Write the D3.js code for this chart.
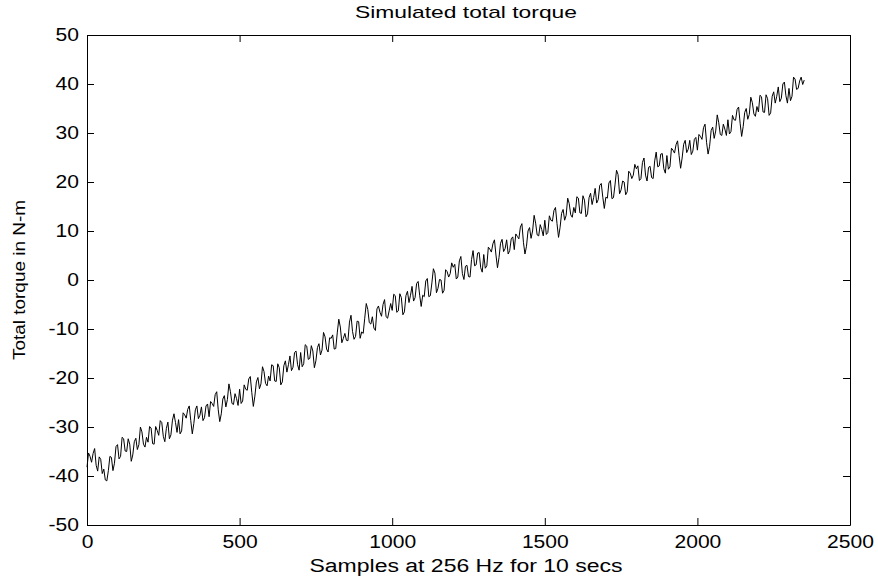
<!DOCTYPE html>
<html>
<head>
<meta charset="utf-8">
<script src="https://cdn.jsdelivr.net/npm/d3@7"></script>
<style>
  body { margin: 0; background: #fff; }
  text { font-family: "Liberation Sans", Arial, sans-serif; fill: #000; }
</style>
</head>
<body>
<div id="vis"></div>
<script>
// torque samples, one value read every 5 samples
const sampleStep = 5;
const torque = [
  -38.2, -35.3, -36.0, -37.2, -35.4, -34.4, -37.8, -39.0, -36.1, -36.6, -39.5, -38.6, -40.8, -41.0, -38.9, -36.0, -36.2, -38.9, -37.4, -34.0,
  -33.6, -36.5, -36.0, -32.1, -32.4, -34.9, -35.0, -32.4, -33.5, -37.0, -35.7, -33.0, -32.3, -34.6, -33.6, -30.0, -31.0, -33.5, -34.1, -32.1,
  -33.1, -29.9, -30.2, -33.4, -33.5, -29.9, -30.7, -31.7, -28.7, -29.1, -31.9, -33.0, -30.3, -29.0, -32.4, -31.6, -28.6, -27.3, -29.1, -31.1,
  -28.5, -31.4, -30.8, -27.1, -27.5, -28.2, -26.4, -25.7, -28.7, -31.4, -29.3, -26.5, -25.7, -28.3, -27.6, -25.9, -28.7, -28.1, -25.7, -25.3,
  -27.9, -24.8, -25.2, -25.8, -23.4, -22.8, -26.5, -28.9, -27.3, -24.3, -23.6, -25.9, -24.4, -21.2, -22.8, -25.2, -25.4, -23.2, -24.2, -25.6,
  -22.3, -25.2, -24.7, -21.4, -22.3, -22.5, -20.2, -19.7, -23.0, -25.8, -23.7, -20.8, -19.9, -22.2, -21.2, -17.7, -18.7, -21.1, -21.6, -19.6,
  -20.6, -17.3, -17.5, -20.6, -20.7, -17.1, -17.9, -21.4, -20.8, -17.5, -16.5, -18.8, -17.3, -15.5, -18.5, -17.8, -14.8, -14.5, -17.3, -18.4,
  -14.8, -17.7, -17.1, -13.2, -13.5, -16.2, -16.0, -13.4, -14.5, -17.9, -16.5, -13.8, -13.0, -15.3, -14.3, -10.7, -11.6, -14.1, -14.7, -11.8,
  -11.9, -11.2, -14.1, -14.0, -10.8, -8.0, -9.6, -12.8, -11.9, -10.9, -12.3, -12.4, -8.6, -7.2, -10.5, -12.1, -11.5, -8.4, -8.5, -11.9,
  -10.6, -10.9, -7.8, -4.8, -6.0, -8.7, -9.0, -7.5, -9.8, -10.3, -5.9, -5.3, -6.6, -7.4, -5.0, -4.0, -7.5, -7.8, -6.3, -4.8,
  -6.2, -2.9, -3.2, -6.6, -6.3, -2.8, -3.6, -7.1, -6.5, -3.2, -2.3, -4.6, -3.1, -1.3, -4.3, -3.6, -0.7, -0.3, -3.1, -5.4,
  -3.1, -3.4, -0.2, 0.3, -3.4, -3.2, -0.6, 2.3, 1.4, -2.6, -1.7, 0.1, 0.0, -2.7, -2.1, 2.1, 1.7, 0.6, 1.3, 3.5,
  2.6, 3.2, 0.2, 0.6, 3.9, 4.8, 1.3, 0.1, 2.8, 3.0, 0.7, 0.6, 4.2, 6.0, 2.9, 3.1, 5.5, 5.6, 2.5, 1.6,
  5.2, 2.4, 2.9, 6.7, 6.3, 5.7, 7.4, 8.2, 5.1, 2.5, 4.6, 7.5, 8.3, 5.8, 6.4, 8.2, 5.3, 6.0, 8.4, 8.8,
  6.2, 9.4, 8.9, 8.4, 10.8, 11.5, 7.7, 5.3, 6.9, 10.0, 10.7, 8.5, 10.0, 13.2, 11.6, 9.2, 9.0, 11.3, 10.3, 9.0,
  12.2, 9.3, 9.7, 13.1, 12.2, 12.0, 14.2, 14.8, 11.5, 8.7, 10.7, 13.6, 14.4, 12.2, 13.2, 16.7, 15.6, 13.3, 12.8, 14.8,
  13.7, 17.0, 16.7, 13.7, 13.6, 17.2, 16.3, 12.9, 13.5, 16.8, 17.7, 15.4, 16.8, 18.7, 15.7, 16.4, 19.3, 19.7, 16.9, 14.6,
  16.9, 16.7, 19.8, 20.3, 16.6, 16.8, 19.4, 22.4, 21.5, 17.6, 18.4, 20.2, 20.0, 17.4, 18.0, 22.2, 21.8, 20.7, 21.4, 23.6,
  22.7, 23.3, 20.3, 20.7, 24.0, 24.9, 21.4, 20.2, 23.0, 23.2, 20.9, 20.7, 24.3, 26.1, 23.1, 23.3, 25.7, 25.8, 22.7, 21.8,
  25.4, 22.6, 23.1, 26.9, 26.5, 25.9, 27.6, 28.4, 25.4, 22.8, 24.9, 27.7, 28.5, 26.0, 26.7, 28.5, 25.6, 26.3, 28.7, 29.1,
  26.5, 29.7, 29.3, 28.7, 31.1, 31.8, 28.1, 25.7, 27.3, 30.5, 31.2, 28.9, 30.4, 33.7, 32.1, 29.7, 29.5, 31.8, 30.8, 29.5,
  32.7, 29.8, 30.3, 33.6, 32.7, 32.6, 34.8, 35.3, 32.0, 29.3, 31.3, 34.2, 35.0, 32.8, 33.8, 37.3, 36.2, 33.9, 33.4, 35.4,
  34.3, 37.7, 37.4, 34.3, 34.2, 37.8, 37.0, 33.6, 34.1, 37.5, 38.4, 36.1, 37.5, 39.4, 36.4, 37.1, 40.0, 40.4, 37.6, 36.1,
  39.1, 36.6, 37.5, 41.4, 41.0, 38.9, 39.1, 40.6, 41.4, 39.9, 40.8
];
const xTicks = [0, 500, 1000, 1500, 2000, 2500];
const yTicks = [-50, -40, -30, -20, -10, 0, 10, 20, 30, 40, 50];

const width = 878, height = 582;
const plotLeft = 87, plotRight = 850, plotTop = 35, plotBottom = 525;

const svg = d3.select('#vis').append('svg')
  .attr('width', width).attr('height', height);

const x = d3.scaleLinear().domain([0, 2500]).range([plotLeft, plotRight]);
const y = d3.scaleLinear().domain([-50, 50]).range([plotBottom, plotTop]);

// the reference text is drawn wider than normal, so stretch it a bit
function widen(sel, factor) {
  sel.each(function () {
    const w = this.getComputedTextLength();
    d3.select(this).attr('textLength', w * factor).attr('lengthAdjust', 'spacingAndGlyphs');
  });
}

const line = d3.line()
  .x((d, i) => x(i * sampleStep))
  .y(d => y(d));

svg.append('path')
  .datum(torque)
  .attr('d', line)
  .attr('fill', 'none')
  .attr('stroke', '#000')
  .attr('stroke-width', 1);

// axes, ticks pointing inward like matlab
const plain = d => String(d);
const gx = svg.append('g').attr('transform', `translate(0,${plotBottom})`)
  .call(d3.axisBottom(x).tickValues(xTicks).tickFormat(plain).tickSizeInner(-7).tickSizeOuter(0).tickPadding(10));
const gy = svg.append('g').attr('transform', `translate(${plotLeft},0)`)
  .call(d3.axisLeft(y).tickValues(yTicks).tickFormat(plain).tickSizeInner(-7).tickSizeOuter(0).tickPadding(8));
svg.append('g').attr('transform', `translate(0,${plotTop})`)
  .call(d3.axisTop(x).tickValues(xTicks).tickSizeInner(-7).tickSizeOuter(0).tickFormat(''));
svg.append('g').attr('transform', `translate(${plotRight},0)`)
  .call(d3.axisRight(y).tickValues(yTicks).tickSizeInner(-7).tickSizeOuter(0).tickFormat(''));

svg.selectAll('.domain').attr('stroke', '#000').attr('stroke-width', 1);
svg.selectAll('.tick line').attr('stroke', '#000');

gx.selectAll('text').style('font-size', '18px').attr('font-family', null);
gy.selectAll('text').style('font-size', '18px').attr('font-family', null);
widen(gx.selectAll('text'), 1.17);
widen(gy.selectAll('text'), 1.17);
svg.selectAll('.tick text').attr('fill', '#000');

svg.append('text')
  .attr('x', 466).attr('y', 18)
  .style('text-anchor', 'middle')
  .style('font-size', '17px')
  .attr('textLength', 222).attr('lengthAdjust', 'spacingAndGlyphs')
  .text('Simulated total torque');

svg.append('text')
  .attr('x', 466).attr('y', 572)
  .style('text-anchor', 'middle')
  .style('font-size', '18px')
  .attr('textLength', 313).attr('lengthAdjust', 'spacingAndGlyphs')
  .text('Samples at 256 Hz for 10 secs');

svg.append('text')
  .attr('transform', `translate(25,280) rotate(-90)`)
  .style('text-anchor', 'middle')
  .style('font-size', '17px')
  .attr('textLength', 160).attr('lengthAdjust', 'spacingAndGlyphs')
  .text('Total torque in N-m');
</script>
</body>
</html>
